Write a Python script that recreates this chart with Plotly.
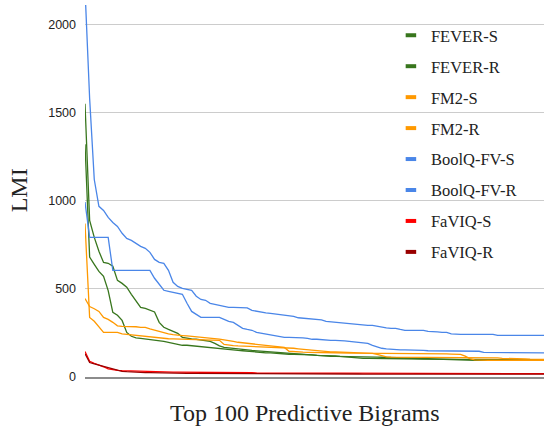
import plotly.graph_objects as go

ranks = list(range(1, 101))

fever_s = [1550, 888, 792, 713, 650, 645, 628, 548, 531, 509,
           469, 435, 395, 389, 378, 369, 310, 282, 270, 259,
           248, 225, 219, 216, 214, 211, 208, 202, 191, 177,
           168, 166, 163, 160, 157, 154, 151, 149, 146, 143,
           140, 138, 137, 134, 133, 132, 130, 129, 127, 126,
           123, 122, 120, 117, 117, 117, 116, 116, 115, 115,
           114, 114, 113, 113, 112, 111, 110, 109, 108, 107,
           106, 105, 104, 103, 102, 100, 100, 99, 98, 97,
           97, 96, 96, 96, 95, 95, 95, 95, 95, 95,
           95, 95, 95, 95, 95, 95, 95, 95, 95, 95]

fever_r = [1320, 680, 639, 599, 571, 490, 367, 350, 321, 253,
           231, 222, 219, 216, 214, 211, 208, 202, 197, 191,
           185, 180, 180, 177, 177, 174, 171, 168, 166, 163,
           160, 157, 154, 151, 149, 146, 143, 140, 140, 137,
           137, 134, 134, 132, 129, 129, 129, 129, 126, 126,
           123, 123, 123, 123, 120, 117, 114, 112, 112, 109,
           106, 106, 106, 106, 106, 105, 105, 104, 104, 104,
           103, 103, 102, 102, 101, 101, 100, 100, 100, 100,
           100, 100, 100, 99, 99, 99, 99, 98, 98, 98,
           98, 98, 97, 97, 97, 97, 97, 97, 97, 97]

fm2_s = [870, 338, 316, 282, 253, 253, 253, 253, 245, 242,
         239, 236, 234, 228, 225, 223, 222, 219, 217, 216,
         215, 214, 214, 214, 213, 211, 211, 208, 208, 208,
         185, 180, 178, 176, 175, 174, 174, 172, 171, 170,
         169, 168, 168, 168, 166, 163, 160, 157, 154, 151,
         149, 146, 146, 143, 143, 142, 140, 140, 140, 137,
         137, 137, 134, 129, 123, 114, 113, 113, 113, 113,
         113, 113, 113, 113, 113, 113, 113, 113, 113, 113,
         112, 112, 112, 112, 111, 110, 110, 109, 109, 109,
         106, 106, 105, 104, 103, 102, 101, 100, 100, 100]

fm2_r = [445, 400, 387, 372, 338, 327, 310, 290, 287, 287,
         285, 285, 282, 282, 273, 265, 259, 248, 244, 240,
         236, 235, 233, 231, 229, 227, 225, 222, 218, 215,
         211, 208, 202, 197, 194, 191, 188, 185, 183, 180,
         177, 174, 171, 168, 146, 143, 142, 141, 140, 140,
         139, 139, 138, 138, 137, 137, 136, 136, 135, 135,
         135, 134, 134, 134, 134, 134, 134, 134, 134, 134,
         134, 134, 134, 134, 133, 133, 132, 132, 131, 130,
         129, 128, 118, 104, 97, 95, 95, 95, 95, 95,
         95, 95, 95, 95, 95, 95, 95, 95, 95, 95]

boolq_s = [2200, 1580, 1120, 968, 945, 905, 876, 854, 815, 786,
           775, 758, 741, 730, 707, 667, 650, 645, 605, 537,
           514, 503, 497, 492, 458, 440, 435, 418, 412, 406,
           401, 395, 395, 395, 395, 392, 378, 372, 367, 364,
           361, 358, 355, 350, 347, 344, 336, 333, 330, 327,
           327, 324, 316, 313, 310, 310, 307, 304, 299, 296,
           293, 293, 293, 287, 282, 279, 276, 276, 270, 265,
           265, 265, 265, 265, 259, 259, 256, 253, 253, 245,
           242, 242, 242, 242, 242, 242, 242, 242, 242, 236,
           236, 236, 236, 236, 236, 236, 236, 236, 236, 236]

boolq_r = [992, 792, 792, 792, 792, 792, 605, 605, 605, 605,
           605, 605, 605, 605, 605, 560, 526, 492, 486, 480,
           477, 469, 418, 372, 355, 338, 338, 338, 338, 338,
           327, 316, 310, 293, 276, 270, 265, 253, 248, 242,
           236, 234, 228, 225, 225, 225, 225, 222, 219, 214,
           214, 211, 208, 208, 208, 208, 205, 202, 200, 197,
           197, 191, 180, 171, 163, 160, 157, 154, 154, 154,
           154, 154, 154, 151, 149, 149, 149, 149, 149, 149,
           146, 146, 146, 146, 146, 146, 140, 140, 140, 140,
           140, 140, 140, 137, 137, 137, 137, 137, 137, 137]

faviq_s = [145, 89, 78, 69, 58, 46, 41, 38, 36, 35,
           33, 32, 31, 31, 30, 30, 29, 29, 29, 28,
           28, 28, 27, 27, 27, 26, 26, 26, 25, 25,
           25, 25, 24, 24, 24, 24, 24, 23, 23, 23,
           23, 23, 23, 22, 22, 22, 22, 22, 22, 22,
           21, 21, 21, 21, 21, 21, 21, 21, 21, 21,
           21, 20, 20, 20, 20, 20, 20, 20, 20, 20,
           20, 20, 20, 20, 20, 19, 19, 19, 19, 19,
           19, 19, 19, 19, 19, 19, 19, 19, 19, 19,
           19, 19, 19, 19, 19, 19, 19, 19, 19, 19]

faviq_r = [132, 82, 74, 67, 60, 52, 42, 35, 32, 30,
           28, 27, 26, 25, 25, 24, 24, 23, 23, 22,
           22, 22, 21, 21, 21, 21, 20, 20, 20, 20,
           20, 19, 19, 19, 19, 19, 19, 18, 18, 18,
           18, 18, 18, 18, 18, 17, 17, 17, 17, 17,
           17, 17, 17, 17, 17, 17, 17, 17, 17, 17,
           16, 16, 16, 16, 16, 16, 16, 16, 16, 16,
           16, 16, 16, 16, 16, 16, 16, 16, 16, 16,
           16, 16, 16, 16, 16, 16, 16, 16, 16, 16,
           16, 16, 16, 16, 16, 16, 16, 16, 16, 16]

series_names = ["FEVER-S", "FEVER-R", "FM2-S", "FM2-R",
                "BoolQ-FV-S", "BoolQ-FV-R", "FaVIQ-S", "FaVIQ-R"]
series_values = [fever_s, fever_r, fm2_s, fm2_r, boolq_s, boolq_r, faviq_s, faviq_r]
series_colors = ["#38761d", "#38761d", "#ff9900", "#ff9900",
                 "#4a86e8", "#4a86e8", "#ff0000", "#990000"]

y_ticks = [0, 500, 1000, 1500, 2000]

fig = go.Figure()
for name, vals, col in zip(series_names, series_values, series_colors):
    fig.add_trace(go.Scatter(x=ranks, y=vals, mode="lines", name=name,
                             line=dict(color=col, width=1.3), showlegend=False,
                             hoverinfo="skip"))
# legend entries (short thick bars like the original key)
for i, (name, col) in enumerate(zip(series_names, series_colors)):
    fig.add_trace(go.Scatter(x=[None], y=[None], mode="markers", name=name,
                             legendgroup=f"g{i}",
                             marker=dict(symbol="line-ew", size=7.5, color=col,
                                         line=dict(color=col, width=4))))

fig.update_layout(
    width=544, height=428,
    margin=dict(l=85, r=0, t=5, b=51),
    paper_bgcolor="white", plot_bgcolor="white",
    showlegend=True,
    legend=dict(x=0.6665, y=0.965, xanchor="left", yanchor="top",
                bgcolor="rgba(0,0,0,0)", borderwidth=0,
                font=dict(family="Liberation Serif", size=16.5, color="#222222"),
                traceorder="grouped", tracegroupgap=6.5),
    xaxis=dict(range=[1, 100], showgrid=False, showticklabels=False, ticks="",
               zeroline=False, showline=True, linecolor="#8c8c8c", linewidth=2),
    yaxis=dict(range=[0, 2110], tickvals=y_ticks, ticks="", showline=False,
               gridcolor="#cccccc", gridwidth=1, zeroline=False,
               ticklabelstandoff=8,
               tickfont=dict(family="Liberation Sans", size=12.5, color="#222222")),
    annotations=[
        dict(text="Top 100 Predictive Bigrams", xref="paper", yref="paper",
             x=0.479, y=-0.097, xanchor="center", yanchor="middle", showarrow=False,
             font=dict(family="Liberation Serif", size=24, color="#222222")),
        dict(text="LMI", xref="paper", yref="paper", textangle=-90,
             x=-0.145, y=0.503, xanchor="center", yanchor="middle", showarrow=False,
             font=dict(family="Liberation Serif", size=24, color="#222222")),
    ],
)

fig.write_html("out.html",
               config={"displayModeBar": False},
               post_script="document.body.style.margin='0';document.body.style.overflow='hidden';")
